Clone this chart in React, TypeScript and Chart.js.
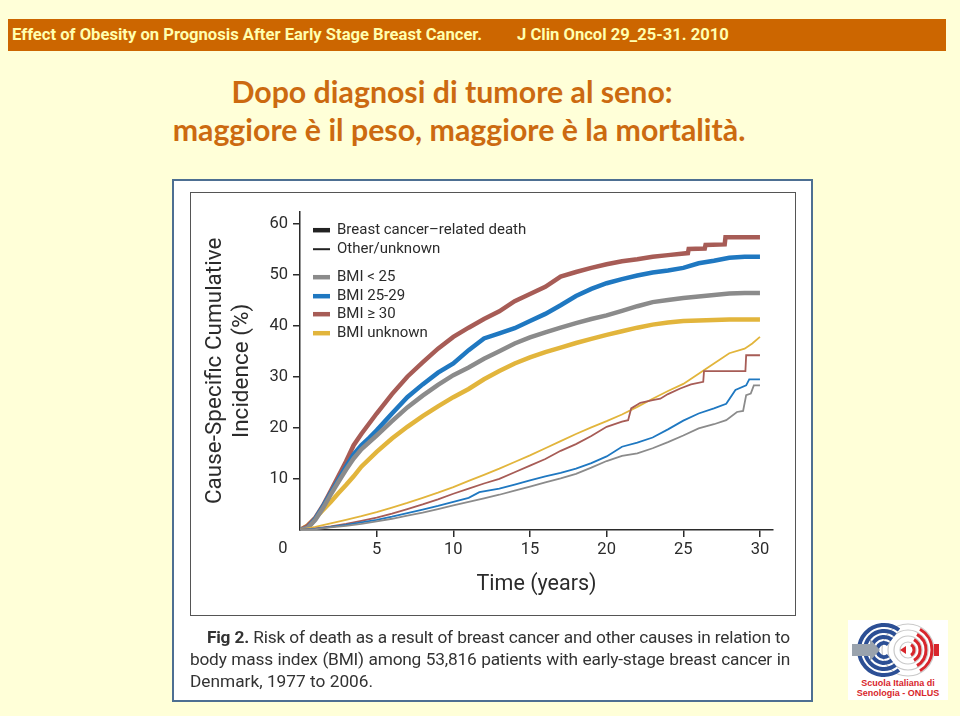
import React, { useEffect, useRef } from "react";
import { Chart, registerables } from "chart.js";

Chart.register(...registerables);

// ---------- data (years, cumulative incidence %) ----------
const X_TICKS = [5, 10, 15, 20, 25, 30];
const Y_TICKS = [10, 20, 30, 40, 50, 60];
const X_MAX = 30.85;
const Y_MAX = 62.3;

// Breast cancer–related death (thick)
const bcBmiUnder25: [number, number][] = [
  [0, 0], [0.5, 0.4], [1, 2.0], [1.5, 4.3], [2, 6.9], [2.5, 9.4], [3, 11.8], [3.5, 14], [4, 15.8], [5, 18.5],
  [6, 21.3], [7, 24], [8, 26.3], [9, 28.4], [10, 30.3], [11, 31.8], [12, 33.5], [13, 35], [14, 36.5], [15, 37.7],
  [16, 38.7], [17, 39.6], [18, 40.5], [19, 41.3], [20, 42], [21, 42.9], [22, 43.8], [23, 44.6], [24, 45],
  [25, 45.4], [26, 45.7], [27, 46], [28, 46.3], [29, 46.4], [30, 46.4],
];
const bcBmi25to29: [number, number][] = [
  [0, 0], [0.5, 0.4], [1, 2.2], [1.5, 4.6], [2, 7.2], [2.5, 9.8], [3, 12.4], [3.5, 14.8], [4, 16.6], [4.5, 18.0],
  [5, 19.5], [6, 22.8], [7, 26], [8, 28.5], [9, 30.8], [10, 32.6], [11, 35.2], [12, 37.5], [13, 38.5], [14, 39.5],
  [15, 40.9], [16, 42.3], [17, 44], [18, 45.8], [19, 47.2], [20, 48.3], [21, 49.1], [22, 49.8], [23, 50.4],
  [24, 50.8], [25, 51.3], [26, 52.2], [27, 52.7], [28, 53.3], [29, 53.5], [30, 53.5],
];
const bcBmiOver30: [number, number][] = [
  [0, 0], [0.5, 0.8], [1, 2.4], [1.5, 4.8], [2, 7.6], [2.5, 10.5], [3, 13.4], [3.5, 16.6], [4, 18.8], [5, 22.8],
  [6, 26.6], [7, 30], [8, 32.8], [9, 35.5], [10, 37.8], [11, 39.6], [12, 41.3], [13, 42.8], [14, 44.8], [15, 46.2],
  [16, 47.6], [17, 49.6], [18, 50.5], [19, 51.3], [20, 52], [21, 52.6], [22, 53], [23, 53.5], [24, 53.8],
  [25.3, 54.2], [25.35, 55], [26.4, 55.1], [26.45, 55.8], [27.7, 55.9], [27.75, 57.3], [30, 57.3],
];
const bcBmiUnknown: [number, number][] = [
  [0, 0], [0.5, 0.9], [1, 2.3], [1.5, 3.9], [2, 5.5], [2.5, 7.2], [3, 8.8], [3.5, 10.5], [4, 12.4], [5, 15.3],
  [6, 17.9], [7, 20.2], [8, 22.3], [9, 24.2], [10, 26], [11, 27.6], [12, 29.5], [13, 31.1], [14, 32.6], [15, 33.8],
  [16, 34.8], [17, 35.7], [18, 36.6], [19, 37.4], [20, 38.2], [21, 38.9], [22, 39.6], [23, 40.2], [24, 40.6],
  [25, 40.9], [26, 41], [27, 41.1], [28, 41.2], [30, 41.2],
];

// Other/unknown causes (thin)
const otBmiUnder25: [number, number][] = [
  [0, 0], [1, 0.15], [2, 0.5], [3, 0.8], [4, 1.2], [5, 1.7], [6, 2.2], [7, 2.8], [8, 3.4], [9, 4.1], [10, 4.8],
  [11, 5.5], [12, 6.2], [13, 6.9], [14, 7.7], [15, 8.5], [16, 9.3], [17, 10.1], [18, 11], [19, 12.2], [20, 13.5],
  [21, 14.5], [22, 15], [23, 16], [24, 17.2], [25, 18.5], [26, 19.9], [27, 20.7], [27.8, 21.5], [28.5, 23.1],
  [28.9, 23.3], [29.1, 26.4], [29.4, 26.7], [29.6, 28.3], [30, 28.3],
];
const otBmi25to29: [number, number][] = [
  [0, 0], [1, 0.2], [2, 0.6], [3, 1.0], [4, 1.5], [5, 2.0], [6, 2.6], [7, 3.3], [8, 4], [9, 4.7], [10, 5.5],
  [11, 6.3], [11.7, 7.4], [13, 8.1], [14, 8.9], [15, 9.7], [16, 10.5], [17, 11.2], [18, 12], [19, 13.1], [20, 14.4],
  [21, 16.3], [22, 17.1], [23, 18.1], [24, 19.7], [25, 21.4], [26, 22.8], [27, 23.8], [27.8, 24.7], [28.4, 27.4],
  [29.1, 28.3], [29.3, 29.5], [30, 29.5],
];
const otBmiOver30: [number, number][] = [
  [0, 0], [1, 0.3], [2, 0.7], [3, 1.2], [4, 1.8], [5, 2.4], [6, 3.2], [7, 4.1], [8, 5], [9, 6], [10, 7.1],
  [11, 8.1], [12, 9.1], [13, 10], [14, 11.3], [15, 12.6], [16, 13.9], [17, 15.5], [18, 16.8], [19, 18.4], [20, 20.2],
  [21, 21.2], [21.4, 21.5], [21.6, 23.8], [22.2, 24.9], [23, 25.4], [23.5, 25.7], [24, 26.6], [24.8, 27.7],
  [25.5, 28.5], [26.3, 29], [26.35, 31.1], [29.05, 31.1], [29.1, 34.2], [30, 34.2],
];
const otBmiUnknown: [number, number][] = [
  [0, 0], [1, 0.6], [2, 1.3], [3, 2], [4, 2.7], [5, 3.5], [6, 4.4], [7, 5.3], [8, 6.3], [9, 7.3], [10, 8.4],
  [11, 9.6], [12, 10.8], [13, 12], [14, 13.3], [15, 14.6], [16, 16], [17, 17.4], [18, 18.8], [19, 20.1], [20, 21.3],
  [21, 22.6], [22, 24.1], [23, 25.7], [24, 27.2], [25, 28.6], [26, 30.6], [27, 32.6], [28, 34.6], [29, 35.5],
  [29.5, 36.5], [30, 37.8],
];

const GROUP_LABELS = ["BMI < 25", "BMI 25-29", "BMI \u2265 30", "BMI unknown"];
const GROUP_COLORS = ["#8b8b8b", "#1f78c1", "#a75c56", "#e2b53c"];
const LEGEND_TYPES = ["Breast cancer\u2013related death", "Other/unknown"];

const FONT = "Roboto, 'Liberation Sans', Arial, sans-serif";
const INK = "#2b2b2b";

const THICK = 4.5;
const THIN = 1.8;

function toPts(arr: [number, number][]) {
  return arr.map(([x, y]) => ({ x, y }));
}

const overlayPlugin = {
  id: "overlay",
  afterDraw(chart: any) {
    const { ctx, chartArea, scales } = chart;
    ctx.save();
    // corner "0" label
    ctx.fillStyle = INK;
    ctx.font = `16.5px ${FONT}`;
    ctx.textAlign = "center";
    ctx.textBaseline = "middle";
    ctx.fillText("0", scales.x.getPixelForValue(0) - 17, chartArea.bottom + 19);

    // legend
    const rows: { label: string; color: string; w: number; dy: number }[] = [
      { label: LEGEND_TYPES[0], color: "#222", w: THICK, dy: 18.5 },
      { label: LEGEND_TYPES[1], color: "#222", w: 2, dy: 37.5 },
      { label: GROUP_LABELS[0], color: GROUP_COLORS[0], w: THICK, dy: 65.5 },
      { label: GROUP_LABELS[1], color: GROUP_COLORS[1], w: THICK, dy: 84.5 },
      { label: GROUP_LABELS[2], color: GROUP_COLORS[2], w: THICK, dy: 102.5 },
      { label: GROUP_LABELS[3], color: GROUP_COLORS[3], w: THICK, dy: 121.5 },
    ];
    const x0 = chartArea.left + 13;
    ctx.textAlign = "left";
    ctx.font = `15px ${FONT}`;
    for (const r of rows) {
      const y = chartArea.top + r.dy;
      ctx.strokeStyle = r.color;
      ctx.lineWidth = r.w;
      ctx.lineCap = "butt";
      ctx.beginPath();
      ctx.moveTo(x0, y);
      ctx.lineTo(x0 + 17, y);
      ctx.stroke();
      ctx.fillStyle = INK;
      ctx.fillText(r.label, x0 + 24, y + 0.5);
    }
    ctx.restore();
  },
};

function ChartBox() {
  const ref = useRef<HTMLCanvasElement | null>(null);
  useEffect(() => {
    if (!ref.current) return;
    const bc = [bcBmiUnder25, bcBmi25to29, bcBmiOver30, bcBmiUnknown];
    const ot = [otBmiUnder25, otBmi25to29, otBmiOver30, otBmiUnknown];
    const datasets: any[] = [];
    ot.forEach((s, i) =>
      datasets.push({
        label: `${GROUP_LABELS[i]} ${LEGEND_TYPES[1]}`,
        data: toPts(s),
        borderColor: GROUP_COLORS[i],
        borderWidth: THIN,
        pointRadius: 0,
        tension: 0,
        fill: false,
      })
    );
    bc.forEach((s, i) =>
      datasets.push({
        label: `${GROUP_LABELS[i]} ${LEGEND_TYPES[0]}`,
        data: toPts(s),
        borderColor: GROUP_COLORS[i],
        borderWidth: THICK,
        pointRadius: 0,
        tension: 0,
        fill: false,
      })
    );
    const chart = new Chart(ref.current, {
      type: "line",
      data: { datasets },
      options: {
        animation: false,
        responsive: false,
        layout: { padding: { left: 10, right: 22, top: 19.7, bottom: 16.5 } },
        plugins: { legend: { display: false }, tooltip: { enabled: false } },
        scales: {
          x: {
            type: "linear",
            min: 0,
            max: X_MAX,
            afterBuildTicks: (s: any) => {
              s.ticks = X_TICKS.map((v) => ({ value: v }));
            },
            afterFit: (s: any) => {
              s.height = 68.5;
            },
            grid: { drawOnChartArea: false, tickLength: 7, color: INK, lineWidth: 1.5 },
            border: { color: INK, width: 1.5 },
            ticks: { font: { family: FONT, size: 16.5 }, color: INK, padding: 3, maxRotation: 0 },
            title: {
              display: true,
              text: "Time (years)",
              font: { family: FONT, size: 21.5, lineHeight: 1.25 },
              color: INK,
              padding: 0,
            },
          },
          y: {
            type: "linear",
            min: 0,
            max: Y_MAX,
            afterBuildTicks: (s: any) => {
              s.ticks = Y_TICKS.map((v) => ({ value: v }));
            },
            afterFit: (s: any) => {
              s.width = 100;
            },
            grid: { drawOnChartArea: false, tickLength: 7, color: INK, lineWidth: 1.5 },
            border: { color: INK, width: 1.5 },
            ticks: { font: { family: FONT, size: 16.5 }, color: INK, padding: 5 },
            title: {
              display: true,
              text: ["Cause-Specific Cumulative", "Incidence (%)"],
              font: { family: FONT, size: 22.5, lineHeight: 1.2 },
              color: INK,
              padding: { top: 1.5, bottom: 0 },
            },
          },
        },
      } as any,
      plugins: [overlayPlugin],
    });
    return () => chart.destroy();
  }, []);
  return (
    <canvas
      ref={ref}
      width={605}
      height={423}
      style={{ position: "absolute", left: 190, top: 192, width: 605, height: 423 }}
    />
  );
}

function Logo() {
  return (
    <svg width={100} height={80} viewBox="0 0 100 80" style={{ position: "absolute", left: 848, top: 620 }}>
      <rect x={0} y={0} width={100} height={80} fill="#ffffff" />
      {[8, 14, 20, 26].map((r) => (
        <circle key={"g" + r} cx={60} cy={30} r={r} fill="none" stroke="#c9c9c9" strokeWidth={1.2} />
      ))}
      {[6, 12, 18, 24].map((r) => (
        <path
          key={"r" + r}
          d={`M ${60 + r * 0.5} ${30 - r * 0.866} A ${r} ${r} 0 0 1 ${60 + r * 0.5} ${30 + r * 0.866}`}
          fill="none"
          stroke="#d8262c"
          strokeWidth={3}
        />
      ))}
      <rect x={86} y={24} width={5} height={12} fill="#d8262c" />
      {[7, 13, 19, 25].map((r) => (
        <path
          key={"b" + r}
          d={`M ${36 + r * 0.6} ${30 - r * 0.8} A ${r} ${r} 0 1 0 ${36 + r * 0.6} ${30 + r * 0.8}`}
          fill="none"
          stroke="#2c4f95"
          strokeWidth={4}
        />
      ))}
      <polygon points="4,24 22,24 22,19 32,30 22,41 22,36 4,36" fill="#9aa3ad" />
      <polygon points="52,30 58,26 58,34" fill="#d8262c" />
      <text x={50} y={66} textAnchor="middle" fontFamily="'Liberation Sans', Arial, sans-serif" fontWeight="bold" fontSize={9} fill="#d8262c">
        Scuola Italiana di
      </text>
      <text x={50} y={76} textAnchor="middle" fontFamily="'Liberation Sans', Arial, sans-serif" fontWeight="bold" fontSize={9} fill="#d8262c">
        Senologia - ONLUS
      </text>
    </svg>
  );
}

const captionLine = (extra: any) => ({
  fontFamily: FONT,
  fontSize: 17.3,
  lineHeight: "22px",
  height: 22,
  color: "#333",
  whiteSpace: "nowrap" as const,
  ...extra,
});

export default function App() {
  const titleFont = "Lato, 'Open Sans', sans-serif";
  const headerStyle = {
    position: "absolute" as const,
    top: 19,
    height: 32,
    lineHeight: "32px",
    fontFamily: FONT,
    fontWeight: "bold" as const,
    fontSize: 16.6,
    color: "#ffffb0",
    whiteSpace: "nowrap" as const,
  };
  const titleStyle = {
    position: "absolute" as const,
    width: 900,
    textAlign: "center" as const,
    fontFamily: titleFont,
    fontWeight: "bold" as const,
    fontSize: 30.3,
    lineHeight: "38px",
    color: "#cc6a10",
    whiteSpace: "nowrap" as const,
  };
  return (
    <div
      style={{
        position: "absolute",
        left: 0,
        top: 0,
        width: 960,
        height: 716,
        background: "#ffffd8",
        overflow: "hidden",
      }}
    >
      {/* header bar */}
      <div style={{ position: "absolute", left: 8, top: 19, width: 938, height: 32, background: "#cc6600" }} />
      <div style={{ ...headerStyle, left: 12 }}>Effect of Obesity on Prognosis After Early Stage Breast Cancer.</div>
      <div style={{ ...headerStyle, left: 517 }}>J Clin Oncol 29_25-31. 2010</div>

      {/* title */}
      <div style={{ ...titleStyle, left: 2, top: 72 }}>Dopo diagnosi di tumore al seno:</div>
      <div style={{ ...titleStyle, left: 9, top: 110 }}>maggiore è il peso, maggiore è la mortalità.</div>

      {/* figure frame */}
      <div
        style={{
          position: "absolute",
          left: 172,
          top: 179,
          width: 641,
          height: 523,
          boxSizing: "border-box",
          border: "2px solid #4d6f92",
          background: "#ffffff",
        }}
      />
      <ChartBox />
      <div
        style={{
          position: "absolute",
          left: 190,
          top: 192,
          width: 606,
          height: 424,
          boxSizing: "border-box",
          border: "1.5px solid #555",
          pointerEvents: "none",
        }}
      />
      <div style={{ position: "absolute", left: 190, top: 626, width: 600 }}>
        <div
          style={captionLine({
            textAlign: "justify",
            textAlignLast: "justify",
            paddingLeft: 17,
            letterSpacing: "-0.22px",
          })}
        >
          <b>Fig 2.</b> Risk of death as a result of breast cancer and other causes in relation to
        </div>
        <div style={captionLine({ textAlign: "justify", textAlignLast: "justify", letterSpacing: "-0.22px" })}>
          body mass index (BMI) among 53,816 patients with early-stage breast cancer in
        </div>
        <div style={captionLine({})}>Denmark, 1977 to 2006.</div>
      </div>

      <Logo />
    </div>
  );
}
